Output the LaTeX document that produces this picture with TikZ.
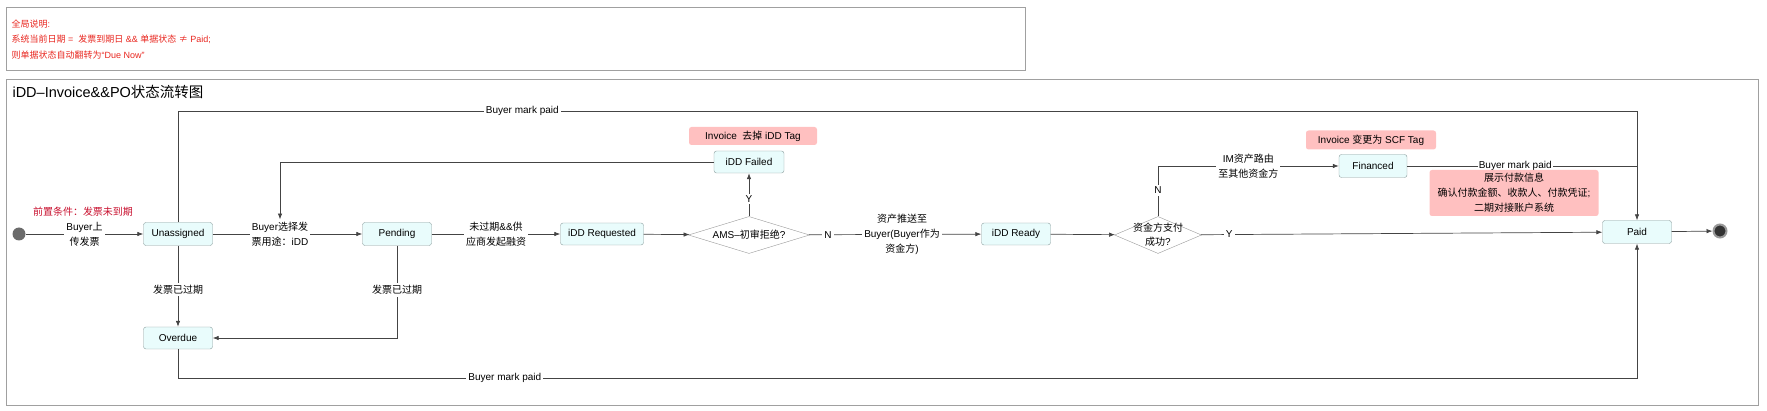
\documentclass[tikz,border=0pt]{standalone}
\usepackage{fontspec}
\setmainfont{Liberation Sans}
\newfontfamily\zhfont{Noto Sans CJK SC}
\newcommand{\zh}[1]{{\zhfont #1}}
\usepackage{tikz}
\usetikzlibrary{arrows.meta,shapes.geometric}
\definecolor{boxfill}{HTML}{E9FCFC}
\definecolor{boxline}{HTML}{8A9C9C}
\definecolor{notepink}{HTML}{FFC0C0}
\definecolor{notered}{HTML}{E8261F}
\definecolor{condred}{HTML}{C8102E}
\definecolor{flowline}{HTML}{444444}
\definecolor{frameline}{HTML}{A0A0A0}

\begin{document}
\begin{tikzpicture}[x=1pt,y=-1pt,
  font=\fontsize{10}{15}\selectfont,
  state/.style={draw=boxline,fill=boxfill,rounded corners=2.5pt,minimum height=23pt,inner sep=2pt},
  choice/.style={diamond,draw=black!40,fill=white,inner sep=0pt},
  tag/.style={fill=notepink,rounded corners=2.5pt,align=center,inner sep=2pt},
  lbl/.style={fill=white,align=center,inner sep=2pt},
  flow/.style={draw=flowline,line width=0.7pt,-{Latex[length=6pt,width=4.5pt]}},
  link/.style={draw=flowline,line width=0.7pt}]
\useasboundingbox (0,0) rectangle (1767,411);
\draw[frameline] (6,7) rectangle (1025,70);
\node[anchor=north west,align=left,text=notered,font=\fontsize{9}{15.5}\selectfont] (globalnote) at (8,16)
  {\zh{全局说明}:\\\zh{系统当前日期} =\ \ \zh{发票到期日} \&\& \zh{单据状态} \zh{≠} Paid;\\\zh{则单据状态自动翻转为}“Due Now”};
\draw[frameline] (6,79) rectangle (1758,405);
\node[anchor=west,font=\fontsize{14.5}{17}\selectfont] (title) at (9,92) {iDD–Invoice\&\&PO\zh{状态流转图}};
\coordinate (toprail) at (0,111);
\coordinate (botrail) at (0,378);

\node[circle,fill=black!58,minimum size=13pt,inner sep=0pt] (start) at (19,234) {};
\node[text=condred] (precond) at (83,212) {\zh{前置条件：发票未到期}};
\node[state,minimum width=69pt] (unassigned) at (178,234) {Unassigned};
\node[state,minimum width=69pt] (pending) at (397,234) {Pending};
\node[state,minimum width=83pt,minimum height=22pt] (requested) at (602,234) {iDD Requested};
\node[choice,minimum width=121pt,minimum height=37pt] (amscheck) at (749,235) {};
\node (amstext) at (amscheck) {AMS–\zh{初审拒绝}?};
\node[state,minimum width=70pt,minimum height=22pt] (failed) at (749,162) {iDD Failed};
\node[tag,minimum width=128pt,minimum height=18pt] (failtag) at (753,136) {Invoice\ \ \zh{去掉} iDD Tag};
\node[state,minimum width=69pt,minimum height=22pt] (ready) at (1016,234) {iDD Ready};
\node[choice,minimum width=87pt,minimum height=37pt] (paycheck) at (1158,235) {};
\node[align=center,font=\fontsize{10}{14}\selectfont] (paytext) at (paycheck) {\zh{资金方支付}\\\zh{成功}?};
\node[state,minimum width=68pt] (financed) at (1373,166) {Financed};
\node[tag,minimum width=130pt,minimum height=19pt] (scftag) at (1371,140) {Invoice \zh{变更为} SCF Tag};
\node[state,minimum width=69pt] (paid) at (1637,232) {Paid};
\node[circle,fill=black!80,draw=black!40,line width=2pt,minimum size=13pt,inner sep=0pt] (finish) at (1720,231) {};
\node[state,minimum width=69pt,minimum height=22pt] (overdue) at (178,338) {Overdue};

\draw[flow] (start) -- node[lbl] {Buyer\zh{上}\\\zh{传发票}} (unassigned);
\draw[flow] (unassigned) -- node[lbl,pos=0.45] (purpose) {Buyer\zh{选择发}\\\zh{票用途：}iDD} (pending);
\draw[flow] (pending) -- node[lbl] {\zh{未过期}\&\&\zh{供}\\\zh{应商发起融资}} (requested);
\draw[flow] (requested) -- (amscheck);
\draw[flow] (amscheck) -- node[lbl,pos=0.4] {Y} (failed);
\draw[flow] (failed.west) -| (purpose.north);
\draw[flow] (amscheck) -- node[lbl,pos=0.11] {N} node[lbl,pos=0.54] {\zh{资产推送至}\\Buyer(Buyer\zh{作为}\\\zh{资金方})} (ready);
\draw[flow] (ready) -- (paycheck);
\draw[flow] (paycheck) -- node[lbl,pos=0.07] {Y} (paid);
\draw[flow] (paycheck.north) |- node[lbl,pos=0.26] {N} node[lbl,pos=0.75] {IM\zh{资产路由}\\\zh{至其他资金方}} (financed.west);
\draw[link] (financed.east) -- node[lbl,pos=0.47,inner sep=1pt] {Buyer mark paid} (financed.east -| paid.north);
\draw[flow] (unassigned.north) |- node[lbl,pos=0.618] {Buyer mark paid} (paid.north |- toprail) -- (paid.north);
\draw[flow] (unassigned) -- node[lbl,pos=0.54] {\zh{发票已过期}} (overdue);
\draw[flow] (pending.south) |- node[lbl,pos=0.24] {\zh{发票已过期}} (overdue.east);
\draw[flow] (overdue.south) |- node[lbl,pos=0.612] {Buyer mark paid} (paid.south |- botrail) -- (paid.south);
\draw[flow] (paid) -- (finish);

\node[tag,minimum width=169pt,minimum height=46pt] (paytag) at (1514,193)
  {\zh{展示付款信息}\\\zh{确认付款金额、收款人、付款凭证};\\\zh{二期对接账户系统}};
\end{tikzpicture}
\end{document}
